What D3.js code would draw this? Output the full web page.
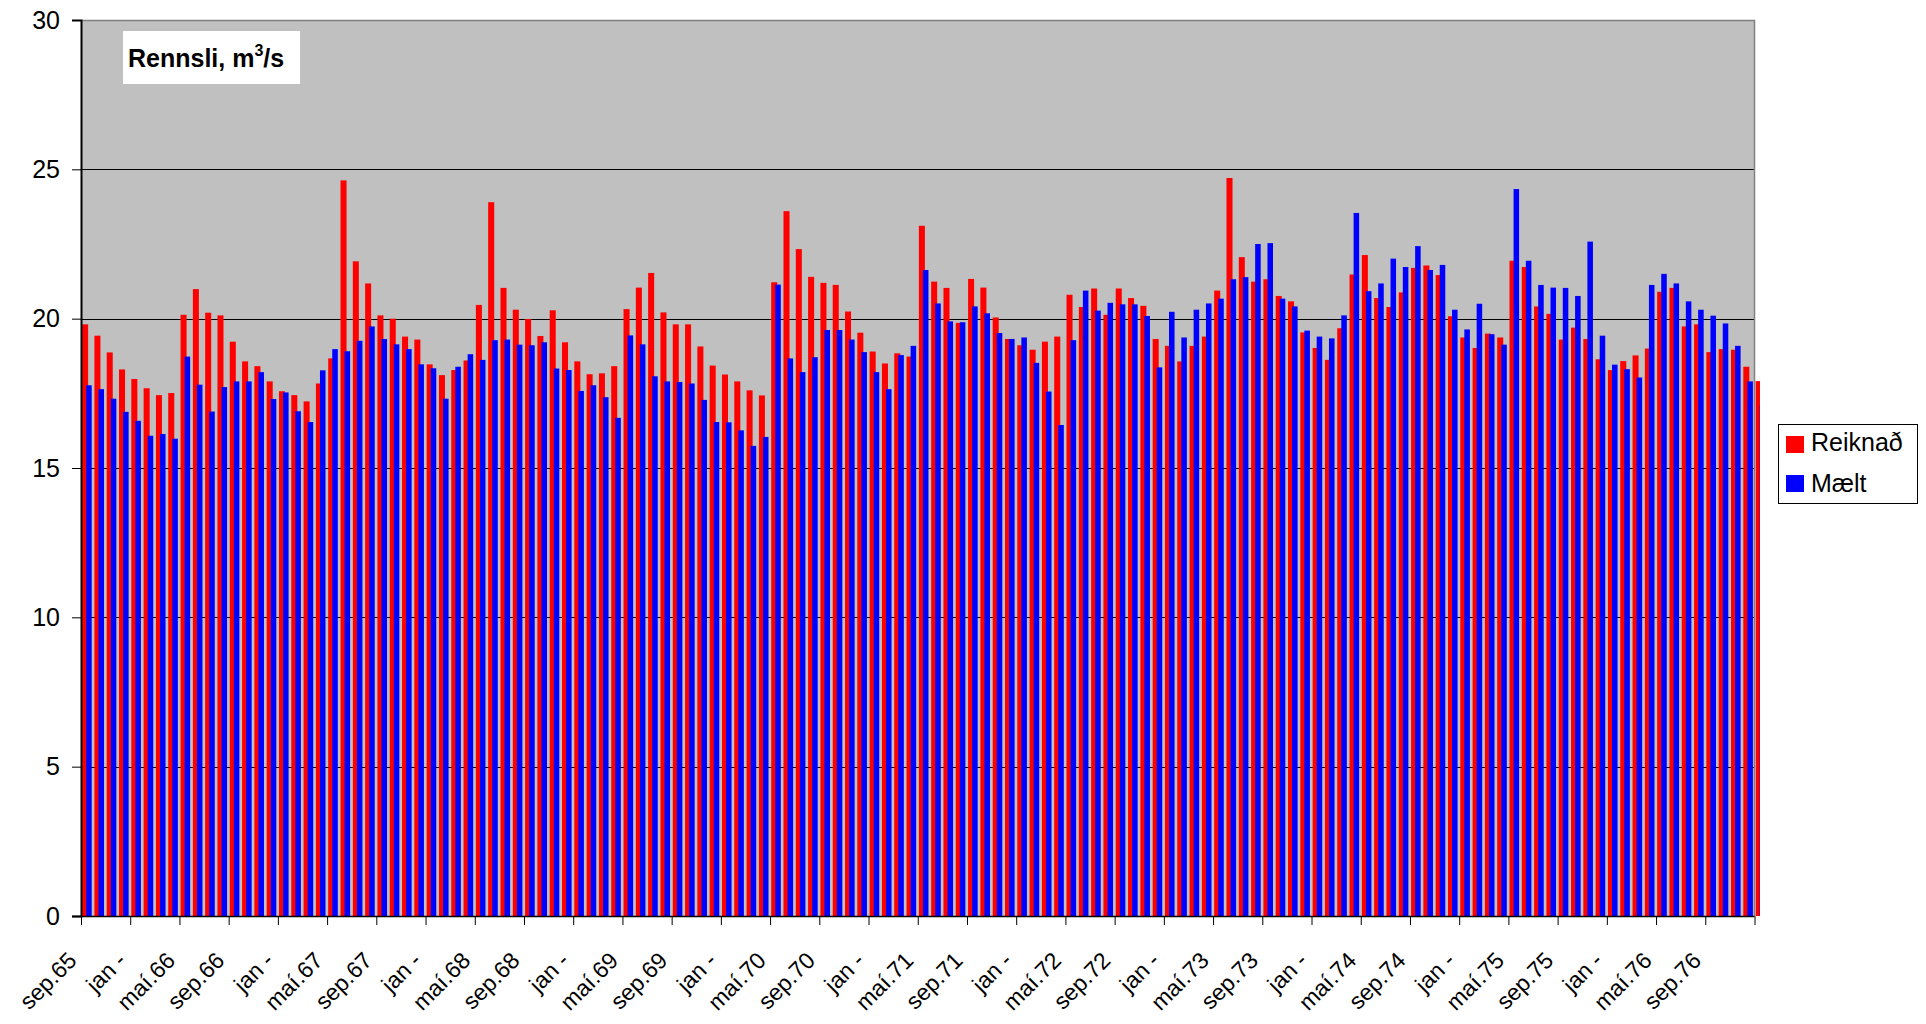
<!DOCTYPE html>
<html>
<head>
<meta charset="utf-8">
<script src="https://cdn.jsdelivr.net/npm/d3@7"></script>
<style>
  html, body { margin: 0; padding: 0; background: #fff; }
  svg { display: block; font-family: "Liberation Sans", Arial, sans-serif; }
</style>
</head>
<body>
<svg id="chart" width="1926" height="1024"></svg>
<script>
// ---- DATA ----
const monthNames = ["jan","feb","mar","apr","maí","jún","júl","ágú","sep","okt","nóv","des"];
const categories = [];
for (let k = 0; k < 137; k++) {
  const m = (8 + k) % 12, y = 65 + Math.floor((8 + k) / 12);
  categories.push(monthNames[m] + "." + y);
}
const tickLabels = ["sep.65","jan -","maí.66","sep.66","jan -","maí.67","sep.67","jan -","maí.68","sep.68","jan -","maí.69",
  "sep.69","jan -","maí.70","sep.70","jan -","maí.71","sep.71","jan -","maí.72","sep.72","jan -","maí.73",
  "sep.73","jan -","maí.74","sep.74","jan -","maí.75","sep.75","jan -","maí.76","sep.76"];
const reiknad = [19.81,19.43,18.87,18.30,17.98,17.67,17.44,17.51,20.13,20.99,20.20,20.11,19.23,18.57,18.41,17.90,
  17.57,17.44,17.23,17.83,18.67,24.63,21.92,21.18,20.11,20.00,19.40,19.30,18.47,18.11,18.28,18.60,
  20.46,23.90,21.03,20.30,19.99,19.42,20.28,19.21,18.57,18.14,18.17,18.41,20.32,21.04,21.53,20.21,
  19.81,19.81,19.07,18.43,18.13,17.90,17.60,17.43,21.22,23.60,22.33,21.40,21.20,21.13,20.24,19.53,
  18.90,18.50,18.84,18.73,23.11,21.24,21.03,19.86,21.33,21.04,20.04,19.32,19.11,18.96,19.23,19.40,
  20.80,20.39,21.01,20.13,21.01,20.69,20.43,19.32,19.09,18.57,19.09,19.40,20.94,24.71,22.06,21.24,
  21.32,20.76,20.58,19.54,19.02,18.62,19.68,21.48,22.13,20.69,20.39,20.88,21.70,21.78,21.46,20.08,
  19.37,19.02,19.50,19.37,21.94,21.73,20.41,20.16,19.30,19.70,19.32,18.64,18.28,18.58,18.77,19.00,
  20.90,21.03,19.74,19.81,18.88,18.98,18.96,18.39,17.91];
const maelt = [17.77,17.64,17.32,16.88,16.58,16.08,16.14,15.98,18.73,17.79,16.89,17.71,17.90,17.90,18.21,17.31,
  17.53,16.90,16.54,18.27,18.98,18.91,19.26,19.74,19.32,19.14,18.98,18.47,18.34,17.32,18.39,18.81,
  18.62,19.28,19.30,19.13,19.11,19.21,18.33,18.28,17.58,17.77,17.37,16.68,19.44,19.14,18.07,17.90,
  17.88,17.83,17.28,16.54,16.53,16.26,15.74,16.04,21.14,18.67,18.21,18.71,19.62,19.62,19.30,18.88,
  18.21,17.64,18.78,19.09,21.63,20.51,19.91,19.88,20.41,20.18,19.52,19.32,19.37,18.52,17.56,16.44,
  19.28,20.94,20.27,20.53,20.48,20.48,20.09,18.37,20.23,19.37,20.30,20.51,20.67,21.32,21.39,22.50,
  22.53,20.67,20.41,19.60,19.40,19.34,20.11,23.54,20.92,21.18,22.01,21.73,22.43,21.63,21.80,20.30,
  19.64,20.50,19.48,19.13,24.34,21.94,21.13,21.04,21.03,20.76,22.58,19.43,18.46,18.31,18.03,21.13,
  21.50,21.18,20.58,20.30,20.10,19.84,19.09,17.90,17.10];
const yTicks = [0,5,10,15,20,25,30];
const seriesNames = ["Reiknað","Mælt"];
const seriesColors = ["#FF0000","#0000FF"];

// ---- LAYOUT ----
const L = 81, R = 1754.5, T = 20, B = 916;
const nAxis = 136;
const bw = (R - L) / nAxis;

const svg = d3.select("#chart");
const x = d3.scaleBand().domain(categories).range([L, L + bw * categories.length]).padding(0);
const xEdge = d3.scaleLinear().domain([0, nAxis]).range([L, R]);
const y = d3.scaleLinear().domain([0, 30]).range([B, T]);

// plot background
svg.append("rect").attr("x", L).attr("y", T).attr("width", R - L).attr("height", B - T).attr("fill", "#C0C0C0");

// gridlines
svg.append("g").selectAll("line").data(yTicks.filter(d => d > 0 && d < 30)).join("line")
  .attr("x1", L).attr("x2", R).attr("y1", d => Math.round(y(d)) + 0.5).attr("y2", d => Math.round(y(d)) + 0.5)
  .attr("stroke", "#000").attr("stroke-width", 1);
// top/right border
svg.append("path").attr("d", `M${L},${T + 0.5}H${R}V${B}`).attr("fill", "none").attr("stroke", "#808080").attr("stroke-width", 1.5);

// bars
svg.append("clipPath").attr("id", "clip").append("rect").attr("x", L).attr("y", 0).attr("width", 1760 - L).attr("height", B);
const gb = svg.append("g").attr("clip-path", "url(#clip)");
gb.selectAll("rect.r").data(reiknad).join("rect").attr("class", "r")
  .attr("x", (d, i) => x(categories[i]) + bw * 0.09).attr("width", bw * 0.49)
  .attr("y", d => y(d)).attr("height", d => B - y(d)).attr("fill", seriesColors[0]);
gb.selectAll("rect.b").data(maelt).join("rect").attr("class", "b")
  .attr("x", (d, i) => x(categories[i]) + bw * 0.42).attr("width", bw * 0.45)
  .attr("y", d => y(d)).attr("height", d => B - y(d)).attr("fill", seriesColors[1]);

// y axis
const yAxis = svg.append("g").attr("transform", `translate(${L},0)`)
  .call(d3.axisLeft(y).tickValues(yTicks).tickSize(9).tickPadding(12));
yAxis.select(".domain").attr("stroke", "#000").attr("stroke-width", 2);
yAxis.selectAll(".tick line").attr("stroke", "#000");
yAxis.selectAll("text").attr("font-size", 25).attr("fill", "#000").attr("font-family", "Liberation Sans, Arial, sans-serif");

// x axis ticks at category boundaries
const xTickVals = d3.range(0, nAxis + 1, 4);
const xAxis = svg.append("g").attr("transform", `translate(0,${B})`)
  .call(d3.axisBottom(xEdge).tickValues(xTickVals).tickSize(9).tickFormat(""));
xAxis.select(".domain").attr("stroke", "#000").attr("stroke-width", 1.5).attr("d", `M${L - 9},0.5H${R}`);
xAxis.selectAll(".tick line").attr("stroke", "#000");

// x labels (rotated)
const labelCats = tickLabels.map((t, i) => categories[i * 4]);
svg.append("g").selectAll("text").data(tickLabels).join("text")
  .attr("transform", (d, i) => `translate(${x(labelCats[i]) + bw / 2 - 9},${962}) rotate(-45)`)
  .attr("text-anchor", "end").attr("font-size", 23).attr("fill", "#000")
  .text(d => d);

// title box
svg.append("rect").attr("x", 123).attr("y", 31).attr("width", 177).attr("height", 53).attr("fill", "#fff");
const title = svg.append("text").attr("x", 128).attr("y", 67).attr("font-size", 25).attr("font-weight", "bold").attr("fill", "#000");
title.append("tspan").text("Rennsli, m");
title.append("tspan").attr("font-size", 16).attr("dy", -11).text("3");
title.append("tspan").attr("dy", 11).text("/s");

// legend
const lg = svg.append("g");
lg.append("rect").attr("x", 1778.5).attr("y", 424.5).attr("width", 139).attr("height", 79)
  .attr("fill", "#fff").attr("stroke", "#000").attr("stroke-width", 1);
seriesNames.forEach((n, i) => {
  lg.append("rect").attr("x", 1786).attr("y", 436 + i * 39).attr("width", 18).attr("height", 17).attr("fill", seriesColors[i]);
  lg.append("text").attr("x", 1811).attr("y", 451 + i * 40.5).attr("font-size", 25).attr("fill", "#000").text(n);
});
</script>
</body>
</html>
